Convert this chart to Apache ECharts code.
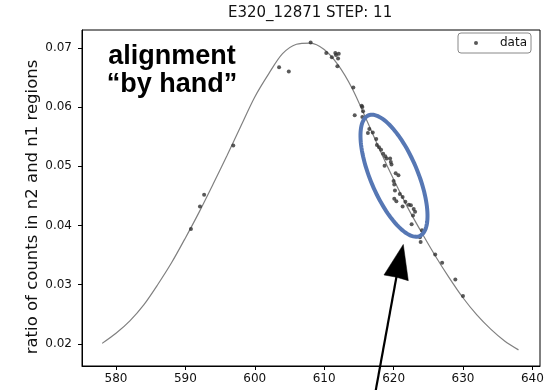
<!DOCTYPE html>
<html>
<head>
<meta charset="utf-8">
<script src="https://cdn.jsdelivr.net/npm/echarts@6/dist/echarts.min.js"></script>
<style>
  html, body { margin: 0; padding: 0; background: #fff; }
  #chart { width: 550px; height: 390px; }
</style>
</head>
<body>
<div id="chart"></div>
<script>
// Labels
const titleText = 'E320_12871 STEP: 11';
const yAxisTitle = 'ratio of counts in n2 and n1 regions';
const seriesName = 'data';
const noteText = 'alignment\n\u201cby hand\u201d';

// Tick labels
const xTickValues = [580, 590, 600, 610, 620, 630, 640];
const yTickValues = [0.02, 0.03, 0.04, 0.05, 0.06, 0.07];

// Measured ratio per step position
const dataX = [
  590.8, 592.1, 592.7, 596.9,
  603.5, 604.9, 608.05, 610.3, 611.1, 611.6, 611.7, 612.1, 612.0, 611.9, 614.2,
  615.4, 615.5, 615.6, 614.4, 615.5, 616.5, 616.3, 617.0, 617.5, 617.6, 617.9,
  618.2, 618.5, 618.8, 619.0, 619.5, 619.6,
  619.7, 618.7, 620.3, 620.7, 620.0, 620.1, 620.2, 620.9, 621.3, 620.1, 620.4,
  621.7, 621.3, 622.2, 622.5, 622.9, 623.1, 622.8, 622.6, 624.1, 623.8, 623.9,
  626.0, 627.0, 628.9, 630.0
];
const dataY = [
  0.0394, 0.0432, 0.0452, 0.0535,
  0.0667, 0.0660, 0.0709, 0.0691, 0.0684, 0.0691, 0.0688, 0.0690, 0.0682, 0.0669, 0.0633,
  0.0602, 0.0600, 0.0593, 0.0586, 0.0583, 0.0563, 0.0556, 0.0557, 0.0546, 0.0536, 0.0532,
  0.0528, 0.0521, 0.0517, 0.0513, 0.0513, 0.0507,
  0.0503, 0.0501, 0.0488, 0.0485, 0.0475, 0.0469, 0.0459, 0.0453, 0.0448, 0.0445, 0.0441,
  0.0440, 0.0432, 0.0435, 0.0434, 0.0428, 0.0423, 0.0417, 0.0402, 0.0392, 0.0380, 0.0372,
  0.0351, 0.0337, 0.0309, 0.0281
];

// Fitted peak profile
const fitX = [
  578, 580, 582, 584, 586, 588, 590, 592, 594, 596, 598, 600, 602, 604, 606, 608,
  610, 612, 614, 616, 618, 620, 622, 624, 626, 628, 630, 632, 634, 636, 638
];
const fitY = [
  0.0201, 0.0218, 0.0239, 0.0266, 0.0300, 0.0337, 0.0379, 0.0423, 0.0470, 0.0518,
  0.0568, 0.0617, 0.0656, 0.0690, 0.0706, 0.0708, 0.0697, 0.0671, 0.0632, 0.0581,
  0.0528, 0.0478, 0.0431, 0.0389, 0.0349, 0.0312, 0.0278, 0.0249, 0.0225, 0.0205, 0.0190
];

// Highlight ellipse (centre in data units) and arrow tip (data units)
const ellipseCenter = [620.06, 0.0484];
const arrowTip = [621.4, 0.0368];

const chart = echarts.init(document.getElementById('chart'), null, { renderer: 'canvas' });

const scatterData = dataX.map((x, i) => [x, dataY[i]]);
const fitData = fitX.map((x, i) => [x, fitY[i]]);

const axisFont = { fontFamily: 'DejaVu Sans', fontSize: 12, color: '#111' };

chart.setOption({
  animation: false,
  backgroundColor: '#fff',
  textStyle: { fontFamily: 'DejaVu Sans' },
  title: {
    text: titleText,
    left: 228,
    top: 1,
    padding: [5, 0, 0, 0],
    textStyle: { fontFamily: 'DejaVu Sans', fontSize: 15, fontWeight: 'normal', color: '#111' }
  },
  legend: {
    data: [seriesName],
    left: 458,
    top: 33,
    icon: 'circle',
    itemWidth: 4,
    itemHeight: 4,
    padding: [4, 4, 4, 16],
    borderColor: '#888',
    borderWidth: 1,
    borderRadius: 3,
    formatter: (n) => '{t|' + n + '}',
    textStyle: {
      rich: { t: { padding: [0, 0, 0, 17], fontSize: 12, fontFamily: 'DejaVu Sans', color: '#111', lineHeight: 14 } }
    }
  },
  grid: {
    left: 82, right: 10, top: 30, bottom: 24,
    show: true, borderColor: '#000', borderWidth: 1, backgroundColor: 'transparent'
  },
  xAxis: {
    type: 'value',
    min: 575.1,
    max: 641.1,
    axisLine: { show: true, lineStyle: { color: '#000', width: 1 } },
    axisTick: { show: true, length: 4, inside: false, customValues: xTickValues, lineStyle: { color: '#000' } },
    axisLabel: Object.assign({ customValues: xTickValues, margin: 7 }, axisFont),
    splitLine: { show: false }
  },
  yAxis: {
    type: 'value',
    min: 0.01628,
    max: 0.0730,
    axisLine: { show: true, lineStyle: { color: '#000', width: 1 } },
    axisTick: { show: true, length: 4, inside: false, customValues: yTickValues, lineStyle: { color: '#000' } },
    axisLabel: Object.assign({ customValues: yTickValues, margin: 10, formatter: (v) => v.toFixed(2) }, axisFont),
    splitLine: { show: false }
  },
  series: [
    {
      type: 'line',
      data: fitData,
      showSymbol: false,
      smooth: 0.3,
      silent: true,
      lineStyle: { color: '#808080', width: 1.2 },
      z: 2
    },
    {
      name: seriesName,
      type: 'scatter',
      data: scatterData,
      symbol: 'circle',
      symbolSize: 4,
      itemStyle: { color: '#303030' },
      z: 3
    }
  ]
});

// Annotation overlay: ellipse around the dense band, arrow, note text, y-axis title
const c = chart.convertToPixel({ gridIndex: 0 }, ellipseCenter);
const semiMajor = 65.5, semiMinor = 23.5, tilt = 67 * Math.PI / 180;
const ring = [];
for (let k = 0; k < 120; k++) {
  const t = (k / 120) * Math.PI * 2;
  const ca = semiMajor * Math.cos(t), cb = semiMinor * Math.sin(t);
  ring.push([
    c[0] + ca * Math.cos(tilt) - cb * Math.sin(tilt),
    c[1] + ca * Math.sin(tilt) + cb * Math.cos(tilt)
  ]);
}

const tip = chart.convertToPixel({ gridIndex: 0 }, arrowTip);
const head = [
  [tip[0], tip[1]],
  [tip[0] - 19.3, tip[1] + 30.5],
  [tip[0] - 6.6, tip[1] + 32.8],
  [tip[0] + 5.0, tip[1] + 36.2]
];

chart.setOption({
  graphic: [
    {
      type: 'polygon',
      shape: { points: ring },
      style: { fill: 'none', stroke: '#5677b4', lineWidth: 4 },
      z: 50
    },
    {
      type: 'line',
      shape: { x1: tip[0] - 6.6, y1: tip[1] + 31, x2: tip[0] - 28.3, y2: tip[1] + 150 },
      style: { stroke: '#000', lineWidth: 2.2 },
      z: 60
    },
    {
      type: 'polygon',
      shape: { points: head },
      style: { fill: '#000', stroke: '#000', lineWidth: 0.5 },
      z: 61
    },
    {
      type: 'text',
      x: 172,
      y: 43,
      style: {
        text: noteText,
        fontFamily: '"Liberation Sans", Arial, sans-serif',
        fontWeight: 'bold',
        fontSize: 27,
        lineHeight: 28,
        fill: '#000',
        align: 'center',
        verticalAlign: 'top'
      },
      z: 40
    },
    {
      type: 'text',
      x: 33,
      y: 207,
      rotation: Math.PI / 2,
      style: {
        text: yAxisTitle,
        fontFamily: 'DejaVu Sans',
        fontSize: 16.5,
        fill: '#111',
        align: 'center',
        verticalAlign: 'middle'
      },
      z: 40
    }
  ]
});
</script>
</body>
</html>
